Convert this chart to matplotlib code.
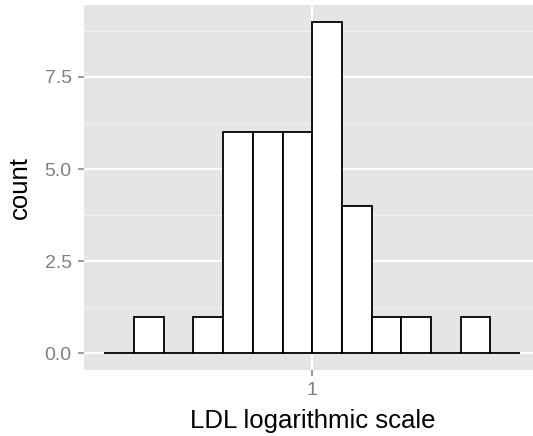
import numpy as np
import matplotlib
matplotlib.use("Agg")
import matplotlib.pyplot as plt
from matplotlib.ticker import FixedLocator, NullLocator, FixedFormatter

# Histogram of LDL on log10 scale (bin edges in log10 units)
bin_edges_log = [-0.7, -0.6, -0.5, -0.4, -0.3, -0.2, -0.1, 0.0,
                 0.1, 0.2, 0.3, 0.4, 0.5, 0.6, 0.7]
counts = [0, 1, 0, 1, 6, 6, 6, 9, 4, 1, 1, 0, 1, 0]

y_ticks = [0, 2.5, 5.0, 7.5]
y_tick_labels = ["0.0", "2.5", "5.0", "7.5"]
y_minor = [1.25, 3.75, 6.25, 8.75]
x_ticks = [1]
x_tick_labels = ["1"]

plt.rcParams['font.family'] = ['Liberation Sans', 'DejaVu Sans']

fig = plt.figure(figsize=(5.33, 4.36), dpi=100)
ax = fig.add_axes([83.5 / 533, 1 - 370 / 436, (541 - 83.5) / 533, 365 / 436])
ax.set_facecolor("#E5E5E5")

edges = 10 ** np.array(bin_edges_log)
lefts = edges[:-1]
widths = edges[1:] - edges[:-1]
ax.bar(lefts, counts, width=widths, align="edge", facecolor="white",
       edgecolor="black", linewidth=1.3, zorder=3)

ax.set_xscale("log")
lo, hi = bin_edges_log[0], bin_edges_log[-1]
pad = 0.05 * (hi - lo)
ax.set_xlim(10 ** (lo - pad), 10 ** (hi + pad))
ax.set_ylim(-0.45, 9.45)

ax.xaxis.set_major_locator(FixedLocator(x_ticks))
ax.xaxis.set_major_formatter(FixedFormatter(x_tick_labels))
ax.xaxis.set_minor_locator(NullLocator())
ax.set_yticks(y_ticks)
ax.set_yticklabels(y_tick_labels)
ax.set_yticks(y_minor, minor=True)

ax.grid(which="major", color="white", linewidth=1.4, zorder=0)
ax.grid(which="minor", axis="y", color="#F2F2F2", linewidth=0.7, zorder=0)
ax.set_axisbelow(True)

for s in ax.spines.values():
    s.set_visible(False)

ax.tick_params(axis="both", which="major", colors="#7F7F7F", labelsize=14,
               length=4.5, width=1.1, pad=4)
ax.tick_params(axis="y", which="minor", length=0)

ax.set_xlabel("LDL logarithmic scale", fontsize=18.5, color="black", labelpad=7)
ax.set_ylabel("count", fontsize=18.5, color="black", labelpad=9)

fig.savefig("out.png", dpi=100)
